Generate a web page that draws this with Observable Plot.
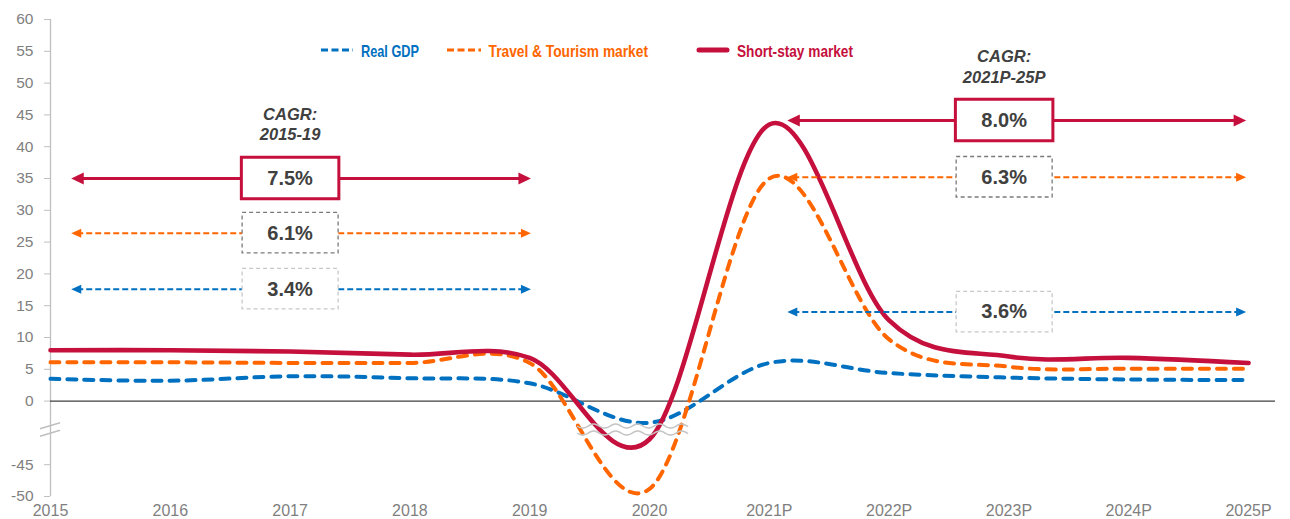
<!DOCTYPE html>
<html>
<head>
<meta charset="utf-8">
<script src="https://cdn.jsdelivr.net/npm/d3@7"></script>
<script src="https://cdn.jsdelivr.net/npm/@observablehq/plot@0.6"></script>
<style>
  body { margin: 0; background: #ffffff; }
  #chart { position: relative; width: 1290px; height: 519px; }
</style>
</head>
<body>
<div id="chart"></div>
<script>
// ---------------- DATA ----------------
const years = ["2015", "2016", "2017", "2018", "2019", "2020", "2021P", "2022P", "2023P", "2024P", "2025P"];
const realGDP       = [3.5, 3.2, 3.9, 3.6, 2.8,  -3.4,  6.0,  4.4, 3.7, 3.4, 3.3];
const travelTourism = [6.1, 6.1, 6.0, 6.0, 6.0, -48.8, 35.0,  9.7, 5.4, 5.1, 5.1];
const shortStay     = [8.0, 8.0, 7.8, 7.3, 6.8, -41.0, 43.5, 12.7, 7.0, 6.8, 6.0];
const seriesNames = ["Real GDP", "Travel & Tourism market", "Short-stay market"];

const cagrPeriods   = ["2015-19", "2021P-25P"];
const cagrGDP       = [3.4, 3.6];
const cagrTravel    = [6.1, 6.3];
const cagrShortStay = [7.5, 8.0];

const yTickLabels = [60, 55, 50, 45, 40, 35, 30, 25, 20, 15, 10, 5, 0, -45, -50];

// ---------------- LAYOUT / STYLE ----------------
const W = 1290, H = 519, mL = 50, mR = 15, mT = 19, mB = 23;
const xMax = 10.225;
const idxPerPx = xMax / (W - mL - mR);
const BREAK_SHIFT = 35;                       // broken axis: -45 drawn at -10, -50 at -15
const toAxis = v => (v < -20 ? v + BREAK_SHIFT : v);
const fromAxis = v => (v < -5 ? v - BREAK_SHIFT : v);

const C = { gdp: "#0070c0", travel: "#ff6600", short: "#c50f3c", text: "#404040", axis: "#bfbfbf", tick: "#7f7f7f" };
const FONT = "'Liberation Sans', Arial, Helvetica, sans-serif";
const smooth = d3.curveCatmullRom.alpha(0);

// annotation placement (index units on x, axis units on y)
const cagrLayout = [
  { center: 2.0,  span: [0.173, 4.01], title: 43.65, rows: [35.0, 26.4, 17.6] },
  { center: 7.96, span: [6.15, 9.98],  title: 52.7,  rows: [44.1, 35.2, 14.0] }
];

// ---------------- TABLES ----------------
const seriesDefs = [
  { key: "gdp",    name: seriesNames[0], values: realGDP },
  { key: "travel", name: seriesNames[1], values: travelTourism },
  { key: "short",  name: seriesNames[2], values: shortStay }
];
const rows = seriesDefs.flatMap(s => s.values.map((v, i) => ({ key: s.key, i, value: v })));
const rowsOf = k => rows.filter(r => r.key === k);

const cagrRows = [];
cagrPeriods.forEach((p, k) => {
  [[cagrShortStay, "short"], [cagrTravel, "travel"], [cagrGDP, "gdp"]].forEach(([arr, key], r) => {
    cagrRows.push({ period: p, key, value: arr[k], x: cagrLayout[k].center,
      x1: cagrLayout[k].span[0], x2: cagrLayout[k].span[1], y: cagrLayout[k].rows[r] });
  });
});
const cagrOf = k => cagrRows.filter(r => r.key === k);

// ---------------- SYMBOLS ----------------
const rectSymbol = (w, h) => ({ draw(ctx) { ctx.moveTo(-w/2, -h/2); ctx.lineTo(w/2, -h/2); ctx.lineTo(w/2, h/2); ctx.lineTo(-w/2, h/2); ctx.closePath(); } });
const triRight = (L, Wd) => ({ draw(ctx) { ctx.moveTo(0, 0); ctx.lineTo(-L, -Wd/2); ctx.lineTo(-L, Wd/2); ctx.closePath(); } });
const triLeft  = (L, Wd) => ({ draw(ctx) { ctx.moveTo(0, 0); ctx.lineTo(L, -Wd/2); ctx.lineTo(L, Wd/2); ctx.closePath(); } });

function arrowMarks(key, color, width, dash, L, Wd) {
  const data = cagrOf(key);
  return [
    Plot.link(data, { x1: d => d.x1 + L * 0.6 * idxPerPx, x2: d => d.x2 - L * 0.6 * idxPerPx, y1: "y", y2: "y",
      stroke: color, strokeWidth: width, strokeDasharray: dash }),
    Plot.dot(data, { x: "x1", y: "y", symbol: triLeft(L, Wd), fill: color, stroke: "none" }),
    Plot.dot(data, { x: "x2", y: "y", symbol: triRight(L, Wd), fill: color, stroke: "none" })
  ];
}

const plot = Plot.plot({
  width: W, height: H,
  marginLeft: mL, marginRight: mR, marginTop: mT, marginBottom: mB,
  style: { fontFamily: FONT, background: "#ffffff", overflow: "visible" },
  x: { type: "linear", domain: [0, xMax], axis: null },
  y: { type: "linear", domain: [-15, 60], axis: null },
  marks: [
    // axes
    Plot.ruleX([0], { y1: -15, y2: 60, stroke: C.axis, strokeWidth: 1.3 }),
    Plot.axisY(yTickLabels.map(toAxis), { tickSize: 6, tickPadding: 11, fontSize: 15.5, stroke: C.axis,
      fill: C.tick, tickFormat: d => String(fromAxis(d)), label: null }),
    Plot.axisX(d3.range(years.length), { tickSize: 0, tickPadding: 8, fontSize: 16, fill: C.tick,
      tickFormat: i => years[i], label: null }),
    Plot.ruleY([0], { stroke: "#404040", strokeWidth: 1.3 }),

    // series
    Plot.line(rowsOf("gdp"), { x: "i", y: d => toAxis(d.value), stroke: C.gdp, strokeWidth: 4,
      strokeDasharray: "9,8", strokeLinecap: "round", curve: smooth }),
    Plot.line(rowsOf("travel"), { x: "i", y: d => toAxis(d.value), stroke: C.travel, strokeWidth: 4,
      strokeDasharray: "9,8", strokeLinecap: "round", curve: smooth }),
    Plot.line(rowsOf("short"), { x: "i", y: d => toAxis(d.value), stroke: C.short, strokeWidth: 4.6,
      curve: smooth }),

    // CAGR arrows
    ...arrowMarks("short", C.short, 3, null, 12.5, 12),
    ...arrowMarks("travel", C.travel, 2, "6,3", 10, 9),
    ...arrowMarks("gdp", C.gdp, 2, "6,3", 10, 9),

    // CAGR boxes
    Plot.dot(cagrOf("short"), { x: "x", y: "y", dy: -0.5, symbol: rectSymbol(97.5, 41.5), fill: "white",
      stroke: C.short, strokeWidth: 3 }),
    Plot.dot(cagrOf("travel"), { x: "x", y: "y", dy: -0.5, symbol: rectSymbol(96, 40.5), fill: "white",
      stroke: "#7a7a7a", strokeWidth: 1.3, strokeDasharray: "4,3" }),
    Plot.dot(cagrOf("gdp"), { x: "x", y: "y", dy: -0.5, symbol: rectSymbol(96, 40.5), fill: "white",
      stroke: "#c8c8c8", strokeWidth: 1.3, strokeDasharray: "4,3" }),
    Plot.text(cagrRows, { x: "x", y: "y", text: d => d.value.toFixed(1) + "%", fontSize: 20,
      fontWeight: "bold", fill: C.text }),

    // CAGR titles
    Plot.text(cagrPeriods, { x: (d, i) => cagrLayout[i].center, y: (d, i) => cagrLayout[i].title,
      text: d => "CAGR:\n" + d, lineHeight: 1.25, fontSize: 16.5, fontWeight: "bold", fontStyle: "italic",
      fill: C.text })
  ]
});

document.getElementById("chart").appendChild(plot);

// ---------------- DECORATIONS (axis break + legend) ----------------
const svg = d3.select(plot);
const sx = plot.scale("x"), sy = plot.scale("y");
const deco = svg.append("g");

// break marks on the y-axis
const yb = sy.apply(-4.55), xa = sx.apply(0);
[-3.7, 3.7].forEach(off => {
  deco.append("line").attr("x1", xa - 10).attr("x2", xa + 10)
    .attr("y1", yb + off + 3).attr("y2", yb + off - 3)
    .attr("stroke", C.axis).attr("stroke-width", 1.5);
});
// wavy break lines across the curves
const wx0 = sx.apply(4.4), wx1 = sx.apply(5.33);
[sy.apply(-4.0), sy.apply(-5.1)].forEach(yc => {
  const pts = d3.range(wx0, wx1 + 0.5, 1).map(x => [x, yc + 2 * Math.sin(2 * Math.PI * (x - wx0) / 22)]);
  deco.append("path").attr("d", d3.line()(pts)).attr("fill", "none")
    .attr("stroke", "#c4c4c4").attr("stroke-width", 1.5);
});

// legend
const legendItems = [
  { name: seriesNames[0], color: C.gdp,    x0: 321, x1: 353, tx: 361,   tw: 58,    dash: "7,3.5", w: 3 },
  { name: seriesNames[1], color: C.travel, x0: 447, x1: 481, tx: 488.5, tw: 159.5, dash: "7,3.5", w: 3 },
  { name: seriesNames[2], color: C.short,  x0: 699, x1: 727, tx: 737,   tw: 116,   dash: null,    w: 5 }
];
const lg = deco.append("g").attr("text-anchor", "start");
legendItems.forEach(it => {
  lg.append("line").attr("x1", it.x0).attr("x2", it.x1).attr("y1", 50).attr("y2", 50)
    .attr("stroke", it.color).attr("stroke-width", it.w)
    .attr("stroke-dasharray", it.dash).attr("stroke-linecap", it.dash ? "butt" : "round");
  lg.append("text").attr("x", it.tx).attr("y", 56.7).text(it.name)
    .attr("text-anchor", "start")
    .attr("fill", it.color).attr("font-family", FONT).attr("font-weight", "bold")
    .attr("font-size", 16.5)
    .attr("textLength", it.tw).attr("lengthAdjust", "spacingAndGlyphs");
});
</script>
</body>
</html>
